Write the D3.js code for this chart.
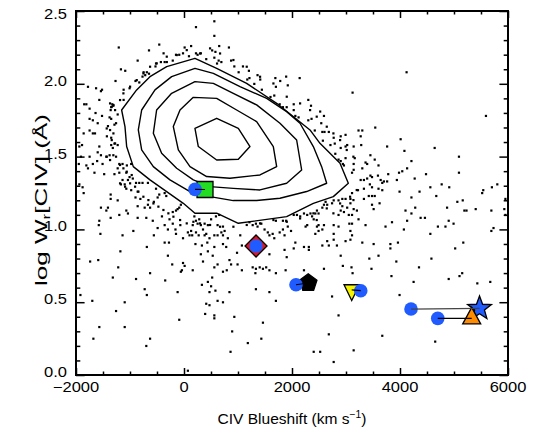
<!DOCTYPE html>
<html lang="en">
<head>
<meta charset="UTF-8">
<title>CIV Blueshift vs log W</title>
<script src="https://d3js.org/d3.v7.min.js"></script>
<style>
    body { margin: 0; background: #ffffff; }
    svg { display: block; font-family: "Liberation Sans", Arial, Helvetica, sans-serif; }
</style>
</head>
<body>
<svg id="chart" width="538" height="432"></svg>
<script>
// ---- axis ticks ----
const xMajorTicks = [-2000, 0, 2000, 4000, 6000];
const xMinorTicks = [-1500, -1000, -500, 500, 1000, 1500, 2500, 3000, 3500, 4500, 5000, 5500];
const yMajorTicks = [0.0, 0.5, 1.0, 1.5, 2.0, 2.5];
const yMinorTicks = [0.1, 0.2, 0.3, 0.4, 0.6, 0.7, 0.8, 0.9, 1.1, 1.2, 1.3, 1.4,
                     1.6, 1.7, 1.8, 1.9, 2.1, 2.2, 2.3, 2.4];

// ---- density contours, [blueshift, logW] ----
const contour1 = [[-1155,1.82],[-877,1.958],[-630,2.049],[-321,2.118],[203,2.175],[605,2.106],[1160,2.003],[1716,1.866],[2333,1.683],[2518,1.591],[2889,1.454],[3043,1.317],[2765,1.225],[2395,1.179],[1901,1.088],[1006,1.042],[605,1.111],[203,1.111],[-13,1.179],[-630,1.34],[-939,1.431],[-1062,1.569],[-1093,1.706]];
const contour2 = [[-784,1.82],[-537,1.958],[-229,2.049],[203,2.106],[543,2.072],[1037,1.981],[1531,1.90],[1901,1.809],[2148,1.729],[2395,1.569],[2549,1.431],[2642,1.317],[2271,1.26],[1777,1.214],[1345,1.198],[913,1.198],[481,1.225],[111,1.26],[-260,1.34],[-568,1.431],[-784,1.546],[-846,1.683]];
const contour3 = [[-507,1.82],[-229,1.935],[203,2.015],[543,2.003],[913,1.935],[1345,1.855],[1777,1.729],[2086,1.614],[2179,1.408],[1901,1.317],[1407,1.271],[913,1.282],[481,1.294],[172,1.34],[-136,1.42],[-414,1.523],[-568,1.66]];
const contour4 = [[-198,1.706],[-74,1.82],[172,1.907],[605,1.90],[975,1.82],[1345,1.74],[1654,1.569],[1716,1.431],[1407,1.374],[851,1.351],[419,1.363],[111,1.431],[-105,1.546]];
const contour5 = [[203,1.694],[605,1.763],[1006,1.694],[1222,1.569],[1006,1.482],[605,1.477],[265,1.569]];

// ---- individual quasars (small dots), [blueshift, logW] ----
const dotsUpperLeft = [[560,2.43],[220,2.39],[560,2.33],[650,2.26],[830,2.25],[-1210,2.25],[-650,2.23],[-460,2.27],[-380,2.21],[10,2.25],[130,2.26],[-150,2.20],[-90,2.20],[-20,2.21],[90,2.19],[220,2.21],[250,2.20],[310,2.21],[410,2.17],[520,2.23],[580,2.22],[560,2.18],[640,2.16],[690,2.15],[610,2.14],[870,2.16],[930,2.12],[1010,2.08],[1090,2.12],[1200,2.09],[1360,2.06],[1410,2.03],[1170,2.03],[1210,2.04],[1300,2.00],[1440,1.96],[1690,2.04],[1780,2.02],[1890,2.05],[1920,1.99],[1700,1.98],[1600,1.91],[1670,1.92],[1770,1.86],[1830,1.84],[1900,1.84],[-860,2.16],[-520,2.14],[-530,2.12],[-430,2.15],[-360,2.15],[-210,2.16],[-320,2.15],[-1170,2.10],[-1090,2.09],[-750,2.08],[-690,2.08],[-650,2.07],[-770,2.05],[-720,2.06],[-670,2.03],[-1270,2.02],[-900,2.02],[-830,2.01],[-1780,1.98],[-1630,1.97],[-1540,1.95],[-1520,1.96],[-1120,1.96],[-1010,1.97],[-870,1.96],[-850,1.95],[-1810,1.86],[-1850,1.86],[-1570,1.89],[-1330,1.86],[-1350,1.84],[-1310,1.85],[-1120,1.89],[-1230,1.79],[-1360,1.82],[-1750,1.83],[-1640,1.80],[-1750,1.76],[-1690,1.75],[-1600,1.73],[-1520,1.78],[-1380,1.77],[-1350,1.76],[-1290,1.72],[-1260,1.73],[-1750,1.68],[-1690,1.66],[-1650,1.66],[-1410,1.71],[-1430,1.64],[-1350,1.63],[-1860,1.66],[-1940,1.57],[-1890,1.58],[-1350,1.58],[-1290,1.59],[-1230,1.58],[-1320,1.56],[-1570,1.57],[-1600,1.53],[-1540,1.51],[-1440,1.50],[-1380,1.51],[-1310,1.51],[-1260,1.50],[-1910,1.50],[-1750,1.50],[-1950,1.45],[-1780,1.42],[-1810,1.44],[-1690,1.45],[-1610,1.47],[-1510,1.45],[-1200,1.45],[-1140,1.45],[-1060,1.44],[-980,1.45],[-1230,1.42],[-1200,1.39],[-1290,1.38],[-1480,1.38],[-1660,1.39],[-1070,1.39],[-1010,1.36],[-860,1.41],[-1140,1.34],[-1040,1.34],[-950,1.35],[-890,1.32],[-830,1.32],[-770,1.32],[-1170,1.31],[-1100,1.31],[-1940,1.31],[-1880,1.29],[-1070,1.28],[-980,1.27],[-860,1.26],[-670,1.32],[-520,1.28]];
const dotsUpperRight = [[2140,2.04],[4120,2.08],[3120,1.94],[2300,1.89],[2350,1.85],[2030,1.86],[2030,1.82],[2060,1.78],[2120,1.77],[2110,1.74],[2520,1.81],[2590,1.78],[2540,1.73],[2300,1.75],[2360,1.76],[5590,1.78],[3540,1.70],[2420,1.68],[2310,1.66],[2400,1.63],[2460,1.61],[2560,1.67],[2600,1.67],[2680,1.67],[2770,1.63],[2900,1.64],[2990,1.65],[2570,1.61],[2710,1.58],[2790,1.59],[2710,1.52],[2800,1.52],[2900,1.56],[2990,1.57],[3020,1.58],[3140,1.57],[3280,1.58],[3230,1.68],[3300,1.68],[3270,1.64],[3160,1.49],[2860,1.48],[2900,1.47],[2940,1.45],[2960,1.44],[2990,1.49],[3140,1.45],[3450,1.51],[3530,1.48],[3360,1.46],[3390,1.45],[3600,1.44],[3300,1.42],[3140,1.41],[3110,1.39],[3270,1.34],[3330,1.34],[3390,1.35],[3450,1.37],[3480,1.36],[3590,1.37],[3640,1.34],[3670,1.32],[3700,1.33],[3760,1.33],[3780,1.38],[3980,1.39],[4040,1.40],[4130,1.42],[4210,1.47],[4080,1.54],[4010,1.62],[3760,1.57],[4640,1.56],[5090,1.50],[5090,1.39],[4480,1.38],[4270,1.35],[3940,1.34],[3440,1.31],[3480,1.29],[3220,1.27],[3330,1.28],[3600,1.28],[3670,1.27],[3990,1.26],[4360,1.26],[4560,1.29],[4770,1.31],[4910,1.29],[5540,1.27],[5700,1.29],[5800,1.31]];
const dotsLowerLeft = [[-1860,1.25],[-1360,1.24],[-1360,1.21],[-1230,1.20],[-1540,1.15],[-1410,1.15],[-1440,1.13],[-1200,1.10],[-1070,1.13],[-1040,1.11],[-860,1.16],[-900,1.22],[-810,1.21],[-730,1.15],[-670,1.17],[-630,1.15],[-560,1.19],[-490,1.22],[-460,1.24],[-360,1.25],[-330,1.23],[-210,1.12],[-150,1.13],[-120,1.14],[-90,1.15],[-60,1.17],[-860,1.08],[-700,1.08],[-410,1.09],[-270,1.07],[-580,1.06],[-1570,1.06],[-1580,1.03],[-1550,0.97],[-1360,1.08],[-1140,0.96],[-940,0.99],[-560,0.96],[-490,1.01],[-360,1.03],[-300,1.00],[-210,1.04],[-160,1.00],[-150,0.97],[-70,1.03],[-20,0.94],[70,0.98],[100,0.96],[150,0.96],[130,0.99],[160,1.03],[190,1.09],[220,1.06],[250,1.04],[280,1.07],[310,1.03],[350,1.00],[380,1.04],[380,0.96],[440,1.03],[220,0.98],[270,0.96],[410,0.97],[500,1.07],[590,1.09],[620,1.03],[650,1.10],[720,1.02],[750,0.99],[690,0.98],[560,0.96],[620,0.96],[720,0.96],[810,0.94],[560,0.88],[720,0.90],[780,0.88],[470,0.94],[430,0.91],[330,0.89],[210,0.90],[310,0.83],[350,0.78],[440,0.85],[530,0.82],[560,0.74],[620,0.76],[720,0.71],[790,0.72],[840,0.79],[870,0.76],[990,0.76],[1040,0.96],[1070,0.89],[980,0.84],[1070,0.72],[1210,1.05],[1270,1.03],[1330,1.04],[1360,1.02],[1430,1.04],[1490,1.00],[1550,0.98],[1580,0.96],[1640,0.97],[1670,0.94],[1700,1.06],[1830,1.06],[1890,1.06],[1830,1.00],[1770,0.98],[1860,0.96],[1920,1.02],[1980,0.99],[1580,0.83],[1860,0.86],[1900,0.81],[1270,0.74],[1330,0.73],[1400,0.74],[1460,0.73],[1520,0.74],[1580,0.72],[1320,0.70],[1700,0.70],[1880,0.72],[1330,0.59],[1580,0.57],[1700,0.51],[1460,0.36],[1430,0.25],[1180,0.22],[890,0.30],[860,0.16],[930,0.40],[840,0.57],[720,0.50],[620,0.51],[580,0.58],[470,0.57],[500,0.61],[440,0.64],[520,0.67],[330,0.62],[560,0.41],[560,0.39],[390,0.42],[410,0.49],[470,0.48],[-20,0.77],[-60,0.71],[-40,0.72],[10,0.75],[160,0.72],[-120,0.57],[-90,0.38],[-220,0.76],[-300,0.82],[-360,0.91],[-280,0.91],[-350,0.65],[-690,0.88],[-690,0.55],[-730,0.59],[-630,0.70],[-890,0.66],[-1180,0.85],[-1220,0.74],[-1320,0.67],[-1590,0.79],[-1740,0.78],[-1920,0.55],[-1700,0.51],[-1100,0.50],[-1260,0.44],[-1570,0.33],[-1100,0.33],[-1680,0.25],[-630,0.25],[-700,0.20],[70,0.03]];
const dotsLowerRight = [[2030,1.10],[2090,1.10],[2150,1.09],[2220,1.11],[2280,1.10],[2340,1.11],[2370,1.09],[2430,1.11],[2400,1.07],[2490,1.11],[2460,1.13],[2560,1.15],[2590,1.17],[2620,1.19],[2650,1.17],[2740,1.18],[2770,1.20],[2860,1.20],[2930,1.21],[2990,1.21],[3080,1.21],[3110,1.25],[3080,1.18],[3020,1.15],[3140,1.14],[2930,1.16],[2900,1.13],[2960,1.12],[2860,1.10],[3050,1.10],[3110,1.10],[3200,1.13],[3230,1.07],[3330,1.21],[3420,1.23],[3480,1.23],[3530,1.23],[3480,1.17],[3510,1.14],[3620,1.18],[3360,1.03],[3110,1.04],[3060,1.04],[2860,1.02],[2770,1.03],[2590,1.03],[2490,1.03],[2460,1.02],[2250,1.02],[2280,1.03],[2430,0.97],[2490,0.99],[2560,1.00],[2770,0.97],[3080,0.99],[3110,0.96],[2990,0.92],[3080,0.93],[2770,0.93],[2680,0.89],[2650,0.92],[2560,0.89],[2310,0.88],[2220,0.88],[2060,0.91],[2030,0.87],[2310,0.86],[2830,0.89],[2900,0.82],[2940,0.75],[3100,0.74],[3120,0.70],[3300,0.91],[3510,0.90],[3600,0.82],[3430,0.80],[3470,0.73],[3730,1.02],[3850,1.05],[3820,0.90],[3820,0.87],[3960,0.91],[3930,0.78],[3840,0.68],[4070,1.00],[4130,1.06],[4100,1.13],[4210,1.11],[4280,1.15],[4210,1.22],[4380,1.08],[4460,1.08],[4670,1.23],[4870,1.15],[4900,1.06],[4990,1.04],[4840,1.02],[4700,1.02],[4560,0.97],[5060,1.19],[5160,1.20],[5190,1.13],[5230,1.13],[5400,1.14],[5520,1.25],[5690,1.13],[5950,1.21],[5930,1.14],[5950,1.10],[5690,0.99],[5730,1.01],[5170,0.91],[5020,0.87],[4580,0.80],[4350,0.74],[4250,0.64],[3990,0.55],[4900,0.66],[5150,0.70],[5100,0.68],[5430,0.63],[5670,0.64],[2220,0.72],[2590,0.73],[2740,0.54],[2860,0.41],[2680,0.28],[3670,0.27],[4650,0.23],[2400,0.16],[2520,0.16],[3140,0.17],[2770,0.09]];
const dotsRing = [[-1371,1.866],[-1309,1.855],[-1340,1.843],[-1278,1.82],[-1433,1.694],[-1371,1.683],[-1309,1.66],[-1340,1.614],[-1278,1.591],[-1433,1.50],[-1371,1.477],[-1186,1.443],[-1124,1.42],[-1062,1.397],[-970,1.374],[-1186,1.317],[-1093,1.294],[-1000,1.317],[-908,1.294],[-846,1.26],[-754,1.225],[-661,1.202],[-568,1.179],[-476,1.157],[-383,1.134],[-291,1.111],[-198,1.088],[-74,1.065],[49,1.042],[172,1.053],[296,1.042],[481,1.031],[666,1.019],[913,1.019],[1160,1.031],[1407,1.042],[1654,1.065],[1901,1.053],[2148,1.076],[2395,1.111],[2642,1.145],[2889,1.179],[3074,1.225],[3197,1.271],[3136,1.202],[2765,1.111],[2456,1.065],[2889,1.614],[3012,1.546],[3135,1.50],[2765,1.66],[2642,1.706],[2456,1.775],[2333,1.82],[2148,1.866],[1901,1.912],[1654,2.003],[1407,2.049],[1160,2.118],[913,2.164],[666,2.209],[481,2.244],[296,2.209],[49,2.232],[-136,2.198],[-321,2.187],[-507,2.141],[-630,2.118],[-753,2.072],[-877,2.026],[-1000,1.981],[-1124,1.935],[-1186,1.889]];

// ---- highlighted objects: blue circle + second measurement joined by a line ----
const objCircle = [[204,1.275],[1334,0.886],[2074,0.620],[3273,0.579],[4204,0.453],[4699,0.389]];
const objSymbol = [[389,1.274],[1334,0.886],[2300,0.632],[3106,0.584],[5473,0.457],[5328,0.389]];
const objShape = ["square", "diamond", "pentagon", "triDown", "star", "triUp"];
const objColor = ["#22dd22", "#ee1111", "#000000", "#f5f500", "#1f5bff", "#ff8c00"];

const width = 538, height = 432;
const margin = { top: 11, right: 30, bottom: 57, left: 76 };
const circleBlue = "#1f5bff";

const svg = d3.select("#chart");

const x = d3.scaleLinear().domain([-2000, 6000]).range([margin.left, width - margin.right]);
const y = d3.scaleLinear().domain([0, 2.5]).range([height - margin.bottom, margin.top]);

// scatter dots, skipping anything inside the outer contour
const outerPx = contour1.map(d => [x(d[0]), y(d[1])]);
const allDots = [].concat(dotsUpperLeft, dotsUpperRight, dotsLowerLeft, dotsLowerRight, dotsRing)
    .filter(d => !d3.polygonContains(outerPx, [x(d[0]), y(d[1])]));

svg.append("g")
    .selectAll("rect")
    .data(allDots)
    .join("rect")
    .attr("x", d => x(d[0]) - 1)
    .attr("y", d => y(d[1]) - 1)
    .attr("width", 2.2)
    .attr("height", 2.2)
    .attr("fill", "#000");

// contours
const line = d3.line().x(d => x(d[0])).y(d => y(d[1])).curve(d3.curveLinearClosed);
svg.append("g")
    .selectAll("path")
    .data([contour1, contour2, contour3, contour4, contour5])
    .join("path")
    .attr("d", line)
    .attr("fill", "none")
    .attr("stroke", "#000")
    .attr("stroke-width", 1.4)
    .attr("stroke-linejoin", "round");

// marker shapes (pixel sizes)
function shapePath(type, cx, cy) {
    const p = d3.path();
    let pts = [];
    if (type === "square") {
        pts = [[-8, -8], [8, -8], [8, 8], [-8, 8]];
    } else if (type === "diamond") {
        pts = [[0, -11], [11, 0], [0, 11], [-11, 0]];
    } else if (type === "triDown") {
        pts = [[-7.7, -5.2], [7.7, -5.2], [0, 10.5]];
    } else if (type === "triUp") {
        pts = [[0, -11], [9, 5.5], [-9, 5.5]];
    } else if (type === "pentagon") {
        for (let i = 0; i < 5; i++) {
            const a = -Math.PI / 2 + i * 2 * Math.PI / 5;
            pts.push([9.2 * Math.cos(a), 9.2 * Math.sin(a)]);
        }
    } else if (type === "star") {
        for (let i = 0; i < 10; i++) {
            const a = -Math.PI / 2 + i * Math.PI / 5;
            const r = i % 2 === 0 ? 12.5 : 5.2;
            pts.push([r * Math.cos(a), r * Math.sin(a)]);
        }
    }
    pts.forEach((q, i) => i ? p.lineTo(cx + q[0], cy + q[1]) : p.moveTo(cx + q[0], cy + q[1]));
    p.closePath();
    return p.toString();
}

const objects = objCircle.map((c, i) => ({ c: c, s: objSymbol[i], shape: objShape[i], color: objColor[i] }));
const objG = svg.append("g");

objG.selectAll("path.sym")
    .data(objects)
    .join("path")
    .attr("class", "sym")
    .attr("d", d => shapePath(d.shape, x(d.s[0]), y(d.s[1])))
    .attr("fill", d => d.color)
    .attr("stroke", "#000")
    .attr("stroke-width", 1.3)
    .attr("stroke-linejoin", "miter");

objG.selectAll("circle")
    .data(objects)
    .join("circle")
    .attr("cx", d => x(d.c[0]))
    .attr("cy", d => y(d.c[1]))
    .attr("r", 6.8)
    .attr("fill", circleBlue);

objG.selectAll("line")
    .data(objects)
    .join("line")
    .attr("x1", d => x(d.c[0]))
    .attr("y1", d => y(d.c[1]))
    .attr("x2", d => x(d.s[0]))
    .attr("y2", d => y(d.s[1]))
    .attr("stroke", (d, i) => i === 4 ? "#444" : "#000")
    .attr("stroke-width", 1.2);

// ticks on all four sides, pointing inward
function ticks(axisFn, scale, values, size, transform) {
    svg.append("g")
        .attr("transform", transform)
        .call(axisFn(scale).tickValues(values).tickSizeInner(size).tickSizeOuter(0).tickFormat(""))
        .call(g => g.select(".domain").remove())
        .selectAll("line")
        .attr("stroke", "#000")
        .attr("stroke-width", 1.5);
}
const x0 = margin.left, x1 = width - margin.right;
const y0 = margin.top, y1 = height - margin.bottom;
ticks(d3.axisBottom, x, xMajorTicks, -7, `translate(0,${y1})`);
ticks(d3.axisBottom, x, xMinorTicks, -3.5, `translate(0,${y1})`);
ticks(d3.axisTop, x, xMajorTicks, -7, `translate(0,${y0})`);
ticks(d3.axisTop, x, xMinorTicks, -3.5, `translate(0,${y0})`);
ticks(d3.axisLeft, y, yMajorTicks, -8.6, `translate(${x0},0)`);
ticks(d3.axisLeft, y, yMinorTicks, -4.3, `translate(${x0},0)`);
ticks(d3.axisRight, y, yMajorTicks, -8.6, `translate(${x1},0)`);
ticks(d3.axisRight, y, yMinorTicks, -4.3, `translate(${x1},0)`);

// frame
svg.append("rect")
    .attr("x", x0).attr("y", y0)
    .attr("width", x1 - x0).attr("height", y1 - y0)
    .attr("fill", "none")
    .attr("stroke", "#000")
    .attr("stroke-width", 2);

// tick labels
svg.append("g")
    .selectAll("text")
    .data(xMajorTicks)
    .join("text")
    .attr("transform", d => `translate(${x(d)},${y1 + 17}) scale(1.18,1)`)
    .attr("text-anchor", "middle")
    .attr("font-size", 14)
    .text(d => d < 0 ? "\u2212" + Math.abs(d) : d);

svg.append("g")
    .selectAll("text")
    .data(yMajorTicks)
    .join("text")
    // the top label sits just below the frame edge
    .attr("transform", d => `translate(${x0 - 9},${y(d) + (d === 2.5 ? 8 : 2)}) scale(1.18,1)`)
    .attr("text-anchor", "end")
    .attr("font-size", 14)
    .text(d3.format(".1f"));

// axis titles
const xTitle = svg.append("text")
    .attr("text-anchor", "middle")
    .attr("font-size", 15);
xTitle.append("tspan").text("CIV Blueshift (km s");
xTitle.append("tspan").attr("font-size", 10).attr("dy", -6).text("\u22121");
xTitle.append("tspan").attr("dy", 6).text(")");
const xLen = xTitle.node().getComputedTextLength();
xTitle.attr("transform", `translate(${(x0 + x1) / 2},424) scale(${149 / xLen},1)`);

const yTitle = svg.append("text")
    .attr("text-anchor", "middle")
    .attr("font-size", 17);
yTitle.append("tspan").text("log W");
yTitle.append("tspan").attr("font-size", 11).attr("dy", 3).text("r");
yTitle.append("tspan").attr("dy", -3).text("[CIV] (\u00c5)");
const yLen = yTitle.node().getComputedTextLength();
yTitle.attr("transform", `translate(47,200) rotate(-90) scale(${172 / yLen},1)`);
</script>
</body>
</html>
